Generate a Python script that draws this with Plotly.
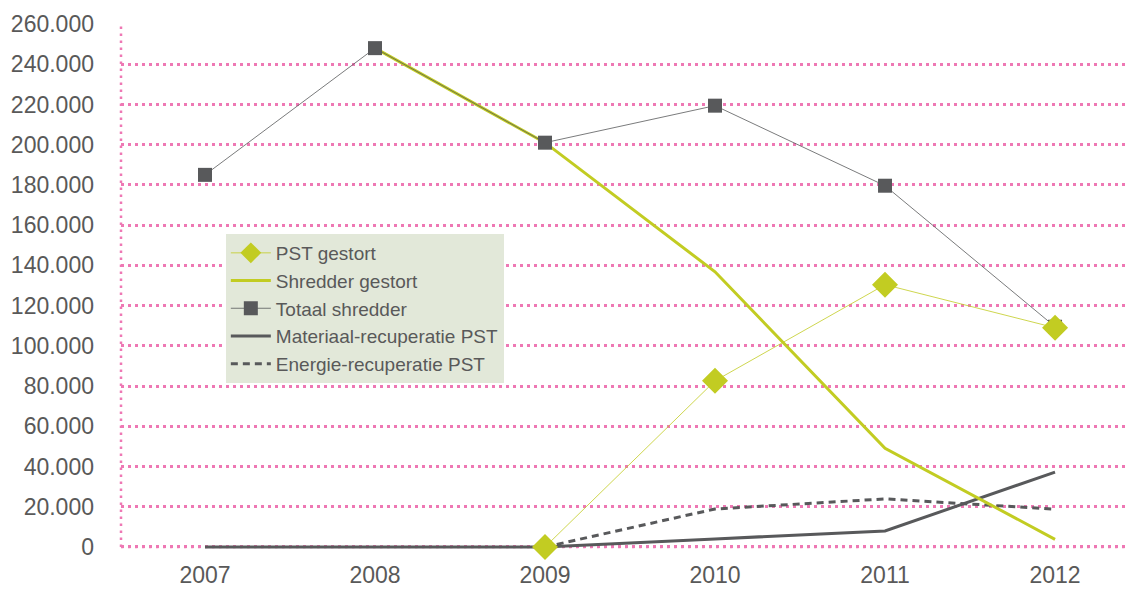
import plotly.graph_objects as go

years = ["2007", "2008", "2009", "2010", "2011", "2012"]
pst_gestort = [None, None, 0, 82600, 130400, 109000]
shredder_gestort = [None, 248000, 201000, 136800, 49100, 3800]
totaal_shredder = [185000, 248000, 201000, 219400, 179600, 109500]
materiaal_pst = [0, 0, 0, 4000, 8000, 37200]
energie_pst = [None, None, 0, 18900, 23900, 18800]

green = "#c2cc22"
gray = "#58595b"
pink = "#ee78b4"
txt = "#595959"

fig = go.Figure()
fig.add_trace(go.Scatter(x=years, y=materiaal_pst, name="Materiaal-recuperatie PST",
                         mode="lines", line=dict(color=gray, width=3),
                         legendrank=4, cliponaxis=False))
fig.add_trace(go.Scatter(x=years, y=energie_pst, name="Energie-recuperatie PST",
                         mode="lines", line=dict(color=gray, width=3, dash="7px,5px"),
                         legendrank=5, cliponaxis=False))
fig.add_trace(go.Scatter(x=years, y=shredder_gestort, name="Shredder gestort",
                         mode="lines", line=dict(color=green, width=3),
                         legendrank=2, cliponaxis=False))
fig.add_trace(go.Scatter(x=years, y=totaal_shredder, name="Totaal shredder",
                         mode="lines+markers", line=dict(color=gray, width=0.8),
                         marker=dict(symbol="square", size=14, color=gray),
                         legendrank=3, cliponaxis=False))
fig.add_trace(go.Scatter(x=years, y=pst_gestort, name="PST gestort",
                         mode="lines+markers", line=dict(color=green, width=0.8),
                         marker=dict(symbol="diamond", size=20, color=green),
                         legendrank=1, cliponaxis=False))

dotline = dict(color=pink, width=2.5, dash="2.5px,4.5px")
fig.add_shape(type="line", xref="paper", yref="y", x0=0, x1=0, y0=0, y1=261000,
              line=dotline, layer="below")
fig.add_shape(type="line", xref="paper", yref="y", x0=0, x1=1, y0=0, y1=0,
              line=dotline, layer="below")

fig.update_layout(
    width=1129, height=592,
    margin=dict(l=121, r=0, t=24, b=43),
    paper_bgcolor="white", plot_bgcolor="white",
    separators=",.",
    font=dict(family="Liberation Sans", color=txt),
    showlegend=True,
    legend=dict(x=0.104, y=0.6, xanchor="left", yanchor="top",
                bgcolor="#e2e8d9", borderwidth=0,
                font=dict(family="Liberation Sans", size=19, color=txt),
                tracegroupgap=0, itemwidth=40,
                traceorder="normal"),
    xaxis=dict(type="category", range=[-0.494, 5.435], showgrid=False,
               showline=False, zeroline=False, ticks="", automargin=False,
               tickfont=dict(family="Liberation Sans", size=23, color=txt),
               ticklabelstandoff=10),
    yaxis=dict(range=[-1000, 260000], tickvals=list(range(0, 260001, 20000)),
               tickformat=",d",
               showgrid=True, gridcolor=pink, gridwidth=2.5, griddash="2.5px,4.5px",
               zeroline=False, showline=False, ticks="", automargin=False,
               tickfont=dict(family="Liberation Sans", size=23, color=txt),
               ticklabelstandoff=26),
)

fig.write_html("out.html", config={"displayModeBar": False},
               post_script="document.body.style.margin='0';")
